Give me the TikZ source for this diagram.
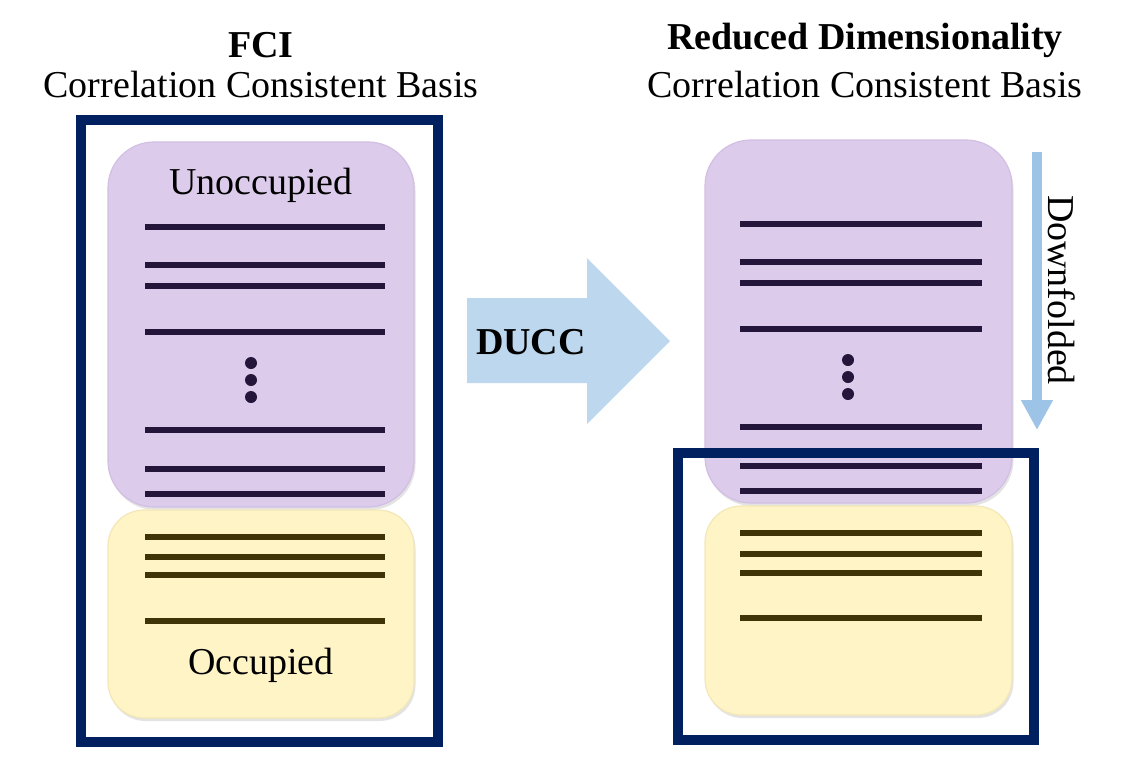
\documentclass[tikz,border=0pt]{standalone}
\usepackage{fontspec}
\setmainfont{Liberation Serif}
\usetikzlibrary{arrows.meta,shadows}
\definecolor{lilac}{HTML}{DCCBEB}
\definecolor{lilacedge}{HTML}{D2BFE3}
\definecolor{levelpurple}{HTML}{24163A}
\definecolor{cream}{HTML}{FFF4C6}
\definecolor{creamedge}{HTML}{F3E7B8}
\definecolor{levelbrown}{HTML}{3F3408}
\definecolor{navy}{HTML}{002060}
\definecolor{ducccol}{HTML}{BDD7EE}
\definecolor{downcol}{HTML}{9DC3E6}
\tikzset{
    bigfont/.style={font=\fontsize{38}{44}\selectfont},
    orbbox/.style={
        draw,
        line width=1.2pt,
        inner sep=0,
        drop shadow={opacity=0.22, shadow xshift=1.5pt, shadow yshift=-3pt},
    },
    unocc/.style={orbbox, draw=lilacedge, fill=lilac, rounded corners=46pt},
    occ/.style={orbbox, draw=creamedge, fill=cream, rounded corners=36pt},
    frame/.style={
        draw=navy,
        line width=10pt,
        inner sep=0,
    },
    level/.style={line width=6pt},
}

\begin{document}
\begin{tikzpicture}[x=1pt, y=-1pt]
            \useasboundingbox (0, 0) rectangle (1125, 764) ;

            % titles
            \node[bigfont] at (261, 45) (fci) {\textbf{FCI}} ;
            \node[bigfont] at (261, 84) (basisL) {Correlation Consistent Basis} ;
            \node[bigfont] at (865, 40) (rd) {\textbf{Reduced Dimensionality}} ;
            \node[bigfont] at (865, 84) (basisR) {Correlation Consistent Basis} ;

            % left: full space
            \node[frame, fill=white, minimum width=357pt, minimum height=622pt,
                drop shadow={opacity=0.25, shadow xshift=2pt, shadow yshift=-3pt}]
                at (259.5, 431) (frameL) {} ;
            \node[unocc, minimum width=306pt, minimum height=365pt] at (261, 324.5) (unoccL) {} ;
            \node[occ, minimum width=306pt, minimum height=208pt] at (261, 614) (occL) {} ;
            \node[bigfont] at (261, 185) (unoccLabel) {Unoccupied} ;
            \node[bigfont] at (261, 665) (occLabel) {Occupied} ;
            \foreach \y in {227, 265, 286, 332, 430, 469, 494}
                \draw[level, levelpurple] (145, \y) -- (385, \y) ;
            \foreach \y in {537, 557, 575, 621}
                \draw[level, levelbrown] (145, \y) -- (385, \y) ;
            \foreach \y in {363, 380, 397}
                \fill[levelpurple] (251, \y) circle (6pt) ;

            % DUCC arrow
            \fill[ducccol] (467, 298) -- (587, 298) -- (587, 258) -- (670, 341)
                -- (587, 424) -- (587, 383) -- (467, 383) -- cycle ;
            \node[bigfont] at (531, 342) (ducc) {\textbf{DUCC}} ;

            % right: downfolded space
            \node[unocc, minimum width=307pt, minimum height=363pt] at (858.5, 321.5) (unoccR) {} ;
            \node[occ, minimum width=307pt, minimum height=209pt] at (858.5, 610.5) (occR) {} ;
            \foreach \y in {224, 262, 283, 329, 427, 466, 491}
                \draw[level, levelpurple] (740, \y) -- (982, \y) ;
            \foreach \y in {533, 554, 573, 618}
                \draw[level, levelbrown] (740, \y) -- (982, \y) ;
            \foreach \y in {360, 377, 394}
                \fill[levelpurple] (848, \y) circle (6pt) ;
            \node[frame, minimum width=356pt, minimum height=287pt] at (856, 596.5) (frameR) {} ;

            % downfolding direction
            \coordinate (downTop) at (1037, 152) ;
            \coordinate (downEnd) at (1037, 430) ;
            \draw[downcol, line width=10pt, -{Triangle[width=30pt, length=30pt]}] (downTop) -- (downEnd) ;
            \node[bigfont, rotate=-90] at (1062, 290) (down) {Downfolded} ;
        \end{tikzpicture}
\end{document}
